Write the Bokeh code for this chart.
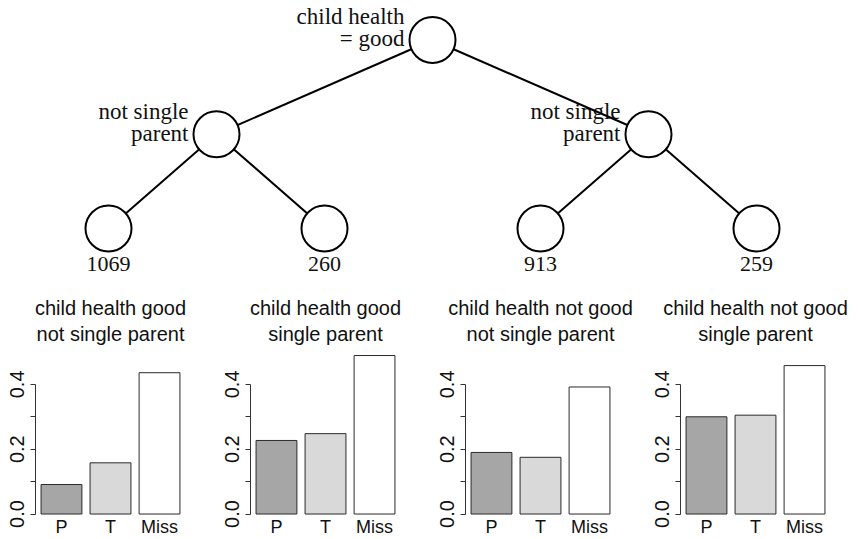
from bokeh.plotting import figure
from bokeh.layouts import column, row
from bokeh.models import Range1d, FactorRange, FixedTicker, Title, ColumnDataSource, PrintfTickFormatter
from bokeh.core.properties import value
from bokeh.embed import file_html
from bokeh.resources import INLINE

# ---------------- data ----------------
root_label = ["child health", "= good"]
split_labels = [["not single", "parent"], ["not single", "parent"]]
leaf_counts = [1069, 260, 913, 259]

categories = ["P", "T", "Miss"]
panel_titles = [
    ["child health good", "not single parent"],
    ["child health good", "single parent"],
    ["child health not good", "not single parent"],
    ["child health not good", "single parent"],
]
props_1 = [0.091, 0.158, 0.436]
props_2 = [0.227, 0.248, 0.489]
props_3 = [0.190, 0.175, 0.392]
props_4 = [0.300, 0.305, 0.458]
panel_props = [props_1, props_2, props_3, props_4]
bar_colors = ["#a6a6a6", "#d9d9d9", "#ffffff"]

SERIF = value("Liberation Serif")
SANS = "Liberation Sans"

# ---------------- tree ----------------
W = 859
tree_h = 278
tree = figure(width=W, height=tree_h, output_backend="svg", toolbar_location=None,
              x_range=Range1d(0, 859 / 216), y_range=Range1d(2.531, -0.419),
              min_border=0)
tree.axis.visible = False
tree.grid.visible = False
tree.outline_line_color = None

n_leaves = len(leaf_counts)
leaf_x = [i + 0.5 for i in range(n_leaves)]
mid_x = [(leaf_x[0] + leaf_x[1]) / 2, (leaf_x[2] + leaf_x[3]) / 2]
root_x = (mid_x[0] + mid_x[1]) / 2
node_x = [root_x] + mid_x + leaf_x
node_y = [0] + [1] * 2 + [2] * n_leaves

# split labels (drawn first so lines pass over them)
lab_x = [root_x] + mid_x
lab_y = [0, 1, 1]
line1 = [root_label[0]] + [s[0] for s in split_labels]
line2 = [root_label[1]] + [s[1] for s in split_labels]
tree.text(x=lab_x, y=lab_y, text=line1, text_align="right", text_baseline="middle",
          x_offset=-28, y_offset=-23, text_font=SERIF, text_font_size="23px", text_color="#111111")
tree.text(x=lab_x, y=lab_y, text=line2, text_align="right", text_baseline="middle",
          x_offset=-28, y_offset=-1, text_font=SERIF, text_font_size="23px", text_color="#111111")

# edges
xs = []
ys = []
for i, mx in enumerate(mid_x):
    xs.append([root_x, mx]); ys.append([0, 1])
    for lx in leaf_x[2 * i:2 * i + 2]:
        xs.append([mx, lx]); ys.append([1, 2])
tree.multi_line(xs=xs, ys=ys, line_color="black", line_width=2)

# nodes
tree.scatter(x=node_x, y=node_y, marker="circle", size=46, fill_color="white",
             line_color="black", line_width=2)

# leaf counts
tree.text(x=leaf_x, y=[2] * n_leaves, text=[str(c) for c in leaf_counts],
          text_align="center", text_baseline="middle", y_offset=36,
          text_font=SERIF, text_font_size="22px", text_color="#111111")

# ---------------- bar panels ----------------
bar_h = 261
widths = [215, 215, 215, 214]
panels = []
for k in range(4):
    src = ColumnDataSource(dict(cat=categories, val=panel_props[k], col=bar_colors))
    p = figure(width=widths[k], height=bar_h, output_backend="svg", toolbar_location=None,
               x_range=FactorRange(*categories, range_padding=0.02),
               y_range=Range1d(-0.02, 0.52),
               min_border_left=35, min_border_right=widths[k] - 35 - 150,
               min_border_top=67, min_border_bottom=18)
    p.title.visible = False
    p.vbar(x="cat", top="val", bottom=0, width=1 / 1.2, source=src,
           fill_color="col", line_color="#2a2a2a", line_width=1)
    p.grid.visible = False
    p.outline_line_color = None

    yax = p.yaxis[0]
    yax.ticker = FixedTicker(ticks=[0.0, 0.2, 0.4], minor_ticks=[0.1, 0.3])
    yax.formatter = PrintfTickFormatter(format="%.1f")
    yax.bounds = (0, 0.4)
    yax.major_label_orientation = "vertical"
    yax.major_tick_in = 0
    yax.major_tick_out = 5
    yax.minor_tick_in = 0
    yax.minor_tick_out = 5
    yax.axis_line_color = "#333333"
    yax.major_tick_line_color = "#333333"
    yax.minor_tick_line_color = "#333333"
    yax.major_label_text_font = SANS
    yax.major_label_text_font_size = "20px"
    yax.major_label_text_color = "#111111"
    yax.major_label_standoff = 6

    xax = p.xaxis[0]
    xax.axis_line_color = None
    xax.major_tick_line_color = None
    xax.minor_tick_line_color = None
    xax.major_tick_out = 0
    xax.major_tick_in = 0
    xax.minor_tick_out = 0
    xax.axis_label_standoff = 0
    xax.major_label_text_font = SANS
    xax.major_label_text_font_size = "18px"
    xax.major_label_text_color = "#111111"
    xax.major_label_standoff = -4

    t2 = Title(text=panel_titles[k][1], align="center", text_font=SANS,
               text_font_size="20px", text_font_style="normal", text_color="#111111",
               standoff=2)
    t1 = Title(text=panel_titles[k][0], align="center", text_font=SANS,
               text_font_size="20px", text_font_style="normal", text_color="#111111",
               standoff=2)
    p.add_layout(t2, "above")
    p.add_layout(t1, "above")
    panels.append(p)

layout = column(tree, row(*panels, spacing=0), spacing=0)
open("out.html", "w").write(file_html(layout, INLINE))
